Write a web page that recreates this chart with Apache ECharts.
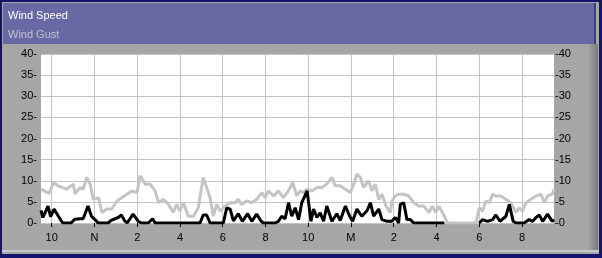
<!DOCTYPE html>
<html>
<head>
<meta charset="utf-8">
<script src="https://cdn.jsdelivr.net/npm/echarts@6/dist/echarts.min.js"></script>
<style>
html,body{margin:0;padding:0;background:#14146e;}
#c{width:602px;height:258px;}
</style>
</head>
<body>
<div id="c"></div>
<script>
// x values are hours since midnight of the first day (9.5 = 9:30 am, 33.5 = 9:30 am next day)
const xTickValues = [10, 12, 14, 16, 18, 20, 22, 24, 26, 28, 30, 32];
const xTickLabels = ['10', 'N', '2', '4', '6', '8', '10', 'M', '2', '4', '6', '8'];
const yTicks = [0, 5, 10, 15, 20, 25, 30, 35, 40];
const seriesNames = ['Wind Speed', 'Wind Gust'];

const gustHours = [9.50,9.69,9.88,10.08,10.30,10.70,10.91,11.01,11.09,11.33,11.47,11.64,11.80,11.95,12.19,12.35,12.58,12.81,13.05,13.28,13.52,13.75,13.99,14.14,14.38,14.61,14.84,15.00,15.23,15.47,15.69,15.84,16.00,16.16,16.39,16.63,16.86,17.09,17.25,17.41,17.56,17.72,17.88,18.11,18.35,18.58,18.73,18.89,19.12,19.36,19.59,19.83,19.99,20.14,20.38,20.61,20.84,21.08,21.27,21.47,21.63,21.78,21.94,22.17,22.41,22.64,22.87,23.11,23.27,23.50,23.74,23.97,24.13,24.28,24.44,24.59,24.83,24.98,25.14,25.30,25.45,25.64,25.84,25.92,26.08,26.23,26.47,26.70,26.94,27.17,27.41,27.66,27.81,27.97,28.12,28.28,28.52,29.84,29.92,30.00,30.16,30.31,30.47,30.63,30.78,31.02,31.25,31.48,31.72,31.87,32.03,32.19,32.42,32.66,32.89,33.05,33.20,33.41,33.50];
const gustValues = [8.0,7.5,7.0,9.6,8.8,8.0,8.8,9.2,6.9,8.4,8.0,10.8,9.2,5.6,6.0,2.5,3.3,3.3,5.2,6.0,6.8,7.6,7.2,11.2,9.2,9.2,7.6,4.8,5.6,4.4,2.5,4.4,2.8,4.8,1.6,1.6,3.6,10.8,8.4,6.0,1.6,4.4,2.8,4.0,4.8,4.8,5.6,4.4,5.2,4.8,5.6,7.2,6.0,7.6,6.4,7.6,6.0,7.6,9.6,6.4,7.6,7.2,8.0,7.6,8.4,8.4,9.2,10.8,8.8,8.8,8.0,7.2,9.2,11.6,10.8,8.4,10.0,7.6,9.2,5.6,6.8,4.0,2.5,5.2,6.4,6.8,6.8,6.4,4.8,4.0,4.0,2.5,4.0,2.5,4.0,2.5,0,0,1.6,3.6,2.8,5.2,4.8,6.8,6.4,6.4,5.6,4.8,2.5,3.6,2.8,4.8,5.6,6.4,6.8,4.8,6.4,6.8,8.0];

const speedHours = [9.50,9.59,9.83,9.95,10.11,10.30,10.45,10.53,10.91,11.08,11.33,11.47,11.70,11.86,12.09,12.17,12.64,12.78,13.11,13.26,13.42,13.53,13.81,14.05,14.19,14.52,14.72,14.84,16.94,17.09,17.25,17.41,18.03,18.19,18.35,18.50,18.73,18.92,19.17,19.36,19.59,19.80,19.91,20.45,20.61,20.76,20.92,21.08,21.23,21.39,21.55,21.70,21.95,22.13,22.25,22.41,22.56,22.72,22.87,23.11,23.34,23.50,23.74,23.97,24.08,24.28,24.51,24.75,24.91,25.06,25.30,25.45,25.69,25.91,26.08,26.23,26.31,26.47,26.62,26.78,26.94,28.37,29.20,30.00,30.16,30.39,30.63,30.78,30.97,31.25,31.41,31.59,31.72,32.09,32.34,32.50,32.66,32.81,32.97,33.20,33.41,33.50];
const speedValues = [3.0,1.3,4.0,1.5,3.3,1.7,0.5,0,0,0.9,1.0,1.0,4.0,1.6,0.5,0,0,0.6,1.3,1.9,0.5,0,2.1,0.4,0,0,1.0,0,0,1.9,1.9,0,0,3.6,3.3,0.5,2.2,0.4,2.2,0.4,2.1,0.4,0,0,0.4,1.6,1.0,4.8,1.6,3.6,0.8,4.8,7.6,0.4,3.3,1.3,2.4,0.4,4.0,0.4,2.2,0.6,4.0,1.3,0.4,3.3,1.6,2.9,4.8,1.6,3.3,0.8,0.4,0.4,1.3,0,4.4,4.8,0.8,0.8,0,0,null,0,0.8,0.4,0.8,1.9,0.4,1.6,4.4,0.4,0,0,0.8,0.4,1.3,1.9,0.4,2.1,0.4,0.8];

const gustData = gustHours.map((h, i) => [h, gustValues[i]]);
const speedData = speedHours.map((h, i) => [h, speedValues[i]]);

const FONT = 'Liberation Sans';
const chart = echarts.init(document.getElementById('c'), null, {renderer: 'canvas'});
chart.setOption({
  animation: false,
  backgroundColor: '#14146e',
  graphic: [
    {type: 'rect', z: -10, shape: {x: 2, y: 2, width: 597, height: 252}, style: {fill: '#a6a6a6'}},
    {type: 'rect', z: -9, shape: {x: 588, y: 44, width: 10, height: 208},
      style: {fill: new echarts.graphic.LinearGradient(0, 0, 1, 0, [{offset: 0, color: '#a6a6a6'}, {offset: 1, color: '#7a7a7a'}])}},
    {type: 'rect', z: -9, shape: {x: 2, y: 250, width: 597, height: 2}, style: {fill: '#c8c8c8'}},
    {type: 'rect', z: -8, shape: {x: 3, y: 3, width: 593, height: 41}, style: {fill: '#6868a4'}},
    {type: 'rect', z: -8, shape: {x: 594, y: 3, width: 2, height: 41}, style: {fill: '#3c3c80'}},
    {type: 'text', left: 8, top: 10, style: {text: seriesNames[0], fill: '#ffffff', font: '11px "Liberation Sans"'}},
    {type: 'text', left: 8, top: 29, style: {text: seriesNames[1], fill: '#c4c4cc', font: '11px "Liberation Sans"'}}
  ],
  grid: {left: 41, right: 48, top: 54, bottom: 35, show: true, backgroundColor: '#ffffff', borderWidth: 0},
  xAxis: {
    type: 'value', min: 9.5, max: 33.5,
    axisLine: {show: false},
    axisTick: {show: true, length: 4, customValues: xTickValues, lineStyle: {color: '#000'}},
    axisLabel: {
      customValues: xTickValues, margin: 9, color: '#000', fontFamily: FONT, fontSize: 11,
      formatter: v => xTickLabels[xTickValues.indexOf(v)]
    },
    splitLine: {show: true, lineStyle: {color: '#c4c4c4', width: 1}}
  },
  yAxis: [
    {
      type: 'value', min: yTicks[0], max: yTicks[yTicks.length - 1], interval: 5, position: 'left',
      axisLine: {show: false}, axisTick: {show: false},
      axisLabel: {margin: 4, color: '#000', fontFamily: FONT, fontSize: 11, formatter: v => v + '-'},
      splitLine: {show: true, lineStyle: {color: '#c4c4c4', width: 1}}
    },
    {
      type: 'value', min: yTicks[0], max: yTicks[yTicks.length - 1], interval: 5, position: 'right',
      axisLine: {show: false}, axisTick: {show: false},
      axisLabel: {margin: 1, color: '#000', fontFamily: FONT, fontSize: 11, formatter: v => '-' + v},
      splitLine: {show: false}
    }
  ],
  series: [
    {name: seriesNames[1], type: 'line', data: gustData, showSymbol: false, symbol: 'none',
      lineStyle: {color: '#c4c4c4', width: 3}, z: 2},
    {name: seriesNames[0], type: 'line', data: speedData, showSymbol: false, symbol: 'none', connectNulls: false,
      lineStyle: {color: '#000000', width: 3}, z: 3}
  ]
});
</script>
</body>
</html>
